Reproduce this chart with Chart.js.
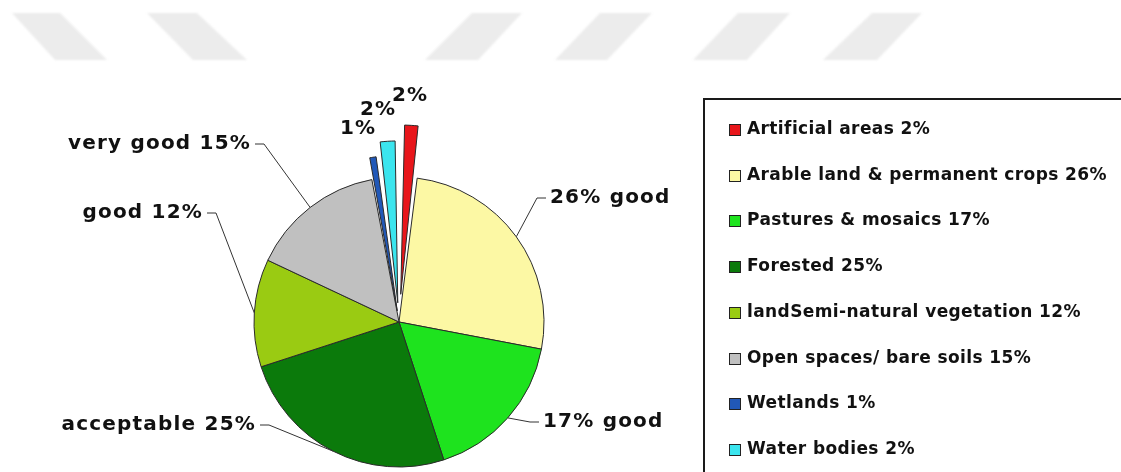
<!DOCTYPE html>
<html>
<head>
<meta charset="utf-8">
<title>Land cover</title>
<script src="https://cdn.jsdelivr.net/npm/chart.js@4.4.1/dist/chart.umd.min.js"></script>
<style>
	html, body { margin: 0; padding: 0; background: #fff; }
	#wrap { width: 1121px; height: 472px; }
</style>
</head>
<body>
<div id="wrap"><canvas id="landChart" width="1121" height="472"></canvas></div>
<script>
var landUses = ['Artificial areas', 'Arable land & permanent crops', 'Pastures & mosaics', 'Forested',
	'landSemi-natural vegetation', 'Open spaces/ bare soils', 'Wetlands', 'Water bodies'];
var shares = [2, 26, 17, 25, 12, 15, 1, 2];
var quality = ['', 'good', 'good', 'acceptable', 'good', 'very good', '', ''];
var sliceColors = ['#e8161b', '#fcf8a4', '#1ee31e', '#0b7a0b', '#9acb12', '#c0c0c0', '#2158b8', '#3be5ee'];
// pulled-out slices (chart.js moves an arc by about half of this)
var explode = [111, 0, 0, 0, 0, 0, 45, 77];

// label spots, measured from the pie centre; side says which way the text runs
var labelSpots = [
	{dx: -7, dy: -226, side: 'right', leader: false},
	{dx: 151, dy: -124, side: 'right', leader: true},
	{dx: 144, dy: 100, side: 'right', leader: true},
	{dx: -143, dy: 103, side: 'left', leader: true},
	{dx: -196, dy: -109, side: 'left', leader: true},
	{dx: -148, dy: -178, side: 'left', leader: true},
	{dx: -59, dy: -193, side: 'right', leader: false},
	{dx: -39, dy: -212, side: 'right', leader: false}
];

// faint stripes along the top edge
var stripes = [
	[[12, 13], [60, 13], [107, 60], [55, 60]],
	[[147, 13], [197, 13], [247, 60], [193, 60]],
	[[472, 13], [522, 13], [478, 60], [425, 60]],
	[[600, 13], [652, 13], [607, 60], [555, 60]],
	[[738, 13], [790, 13], [747, 60], [693, 60]],
	[[872, 13], [922, 13], [877, 60], [823, 60]]
];

var stripePlugin = {
	id: 'stripes',
	beforeDraw: function(chart){
		var ctx = chart.ctx;
		ctx.save();
		ctx.fillStyle = '#ececec';
		ctx.filter = 'blur(1px)';
		stripes.forEach(function(s){
			ctx.beginPath();
			ctx.moveTo(s[0][0], s[0][1]);
			for(var i = 1; i < s.length; i++){ ctx.lineTo(s[i][0], s[i][1]); }
			ctx.closePath();
			ctx.fill();
		});
		ctx.restore();
	}
};

function labelText(i){
	if(!quality[i]) return shares[i] + '%';
	return labelSpots[i].side == 'left' ? quality[i] + ' ' + shares[i] + '%' : shares[i] + '% ' + quality[i];
}

var sliceLabelPlugin = {
	id: 'sliceLabels',
	afterDatasetsDraw: function(chart){
		var ctx = chart.ctx;
		var arcs = chart.getDatasetMeta(0).data;
		ctx.save();
		ctx.font = 'bold 20px "DejaVu Sans"';
		ctx.letterSpacing = '1.2px';
		ctx.textBaseline = 'middle';
		ctx.lineWidth = 1;
		ctx.strokeStyle = '#333';
		ctx.fillStyle = '#111';
		arcs.forEach(function(arc, i){
			var p = arc.getProps(['x', 'y', 'startAngle', 'endAngle', 'outerRadius'], true);
			var spot = labelSpots[i];
			var tx = p.x + spot.dx;
			var ty = p.y + spot.dy;
			if(spot.leader){
				var mid = (p.startAngle + p.endAngle) / 2;
				var ax = p.x + Math.cos(mid) * p.outerRadius;
				var ay = p.y + Math.sin(mid) * p.outerRadius;
				var dir = spot.side == 'left' ? 1 : -1;
				ctx.beginPath();
				ctx.moveTo(tx + dir * 4, ty);
				ctx.lineTo(tx + dir * 13, ty);
				ctx.lineTo(ax, ay);
				ctx.stroke();
			}
			ctx.textAlign = spot.side == 'left' ? 'right' : 'left';
			ctx.fillText(labelText(i), tx, ty);
		});
		ctx.restore();
	}
};

var boxLegendPlugin = {
	id: 'boxLegend',
	afterDraw: function(chart){
		var ctx = chart.ctx;
		var ds = chart.data.datasets[0];
		ctx.save();
		ctx.lineWidth = 2;
		ctx.strokeStyle = '#1a1a1a';
		ctx.strokeRect(704, 99, 600, 500);
		ctx.font = 'bold 17px "DejaVu Sans"';
		ctx.letterSpacing = '0.4px';
		ctx.textBaseline = 'middle';
		ctx.textAlign = 'left';
		chart.data.labels.forEach(function(name, i){
			var y = Math.round(130 + i * 45.7);
			ctx.fillStyle = ds.backgroundColor[i];
			ctx.fillRect(729, y - 6, 12, 12);
			ctx.lineWidth = 1;
			ctx.strokeStyle = '#222';
			ctx.strokeRect(729.5, y - 5.5, 11, 11);
			ctx.fillStyle = '#111';
			ctx.fillText(name + ' ' + ds.data[i] + '%', 747, y);
		});
		ctx.restore();
	}
};

var landChart = new Chart(document.getElementById('landChart'), {
	type: 'pie',
	data: {
		labels: landUses,
		datasets: [{
			data: shares,
			backgroundColor: sliceColors,
			borderColor: '#2a2a2a',
			borderWidth: 1,
			offset: explode,
			radius: 145,
			clip: false
		}]
	},
	options: {
		responsive: false,
		animation: false,
		events: [],
		layout: {padding: {left: 0, right: 323, top: 172, bottom: 0}},
		plugins: {
			legend: {display: false},
			tooltip: {enabled: false}
		}
	},
	plugins: [stripePlugin, sliceLabelPlugin, boxLegendPlugin]
});
</script>
</body>
</html>
